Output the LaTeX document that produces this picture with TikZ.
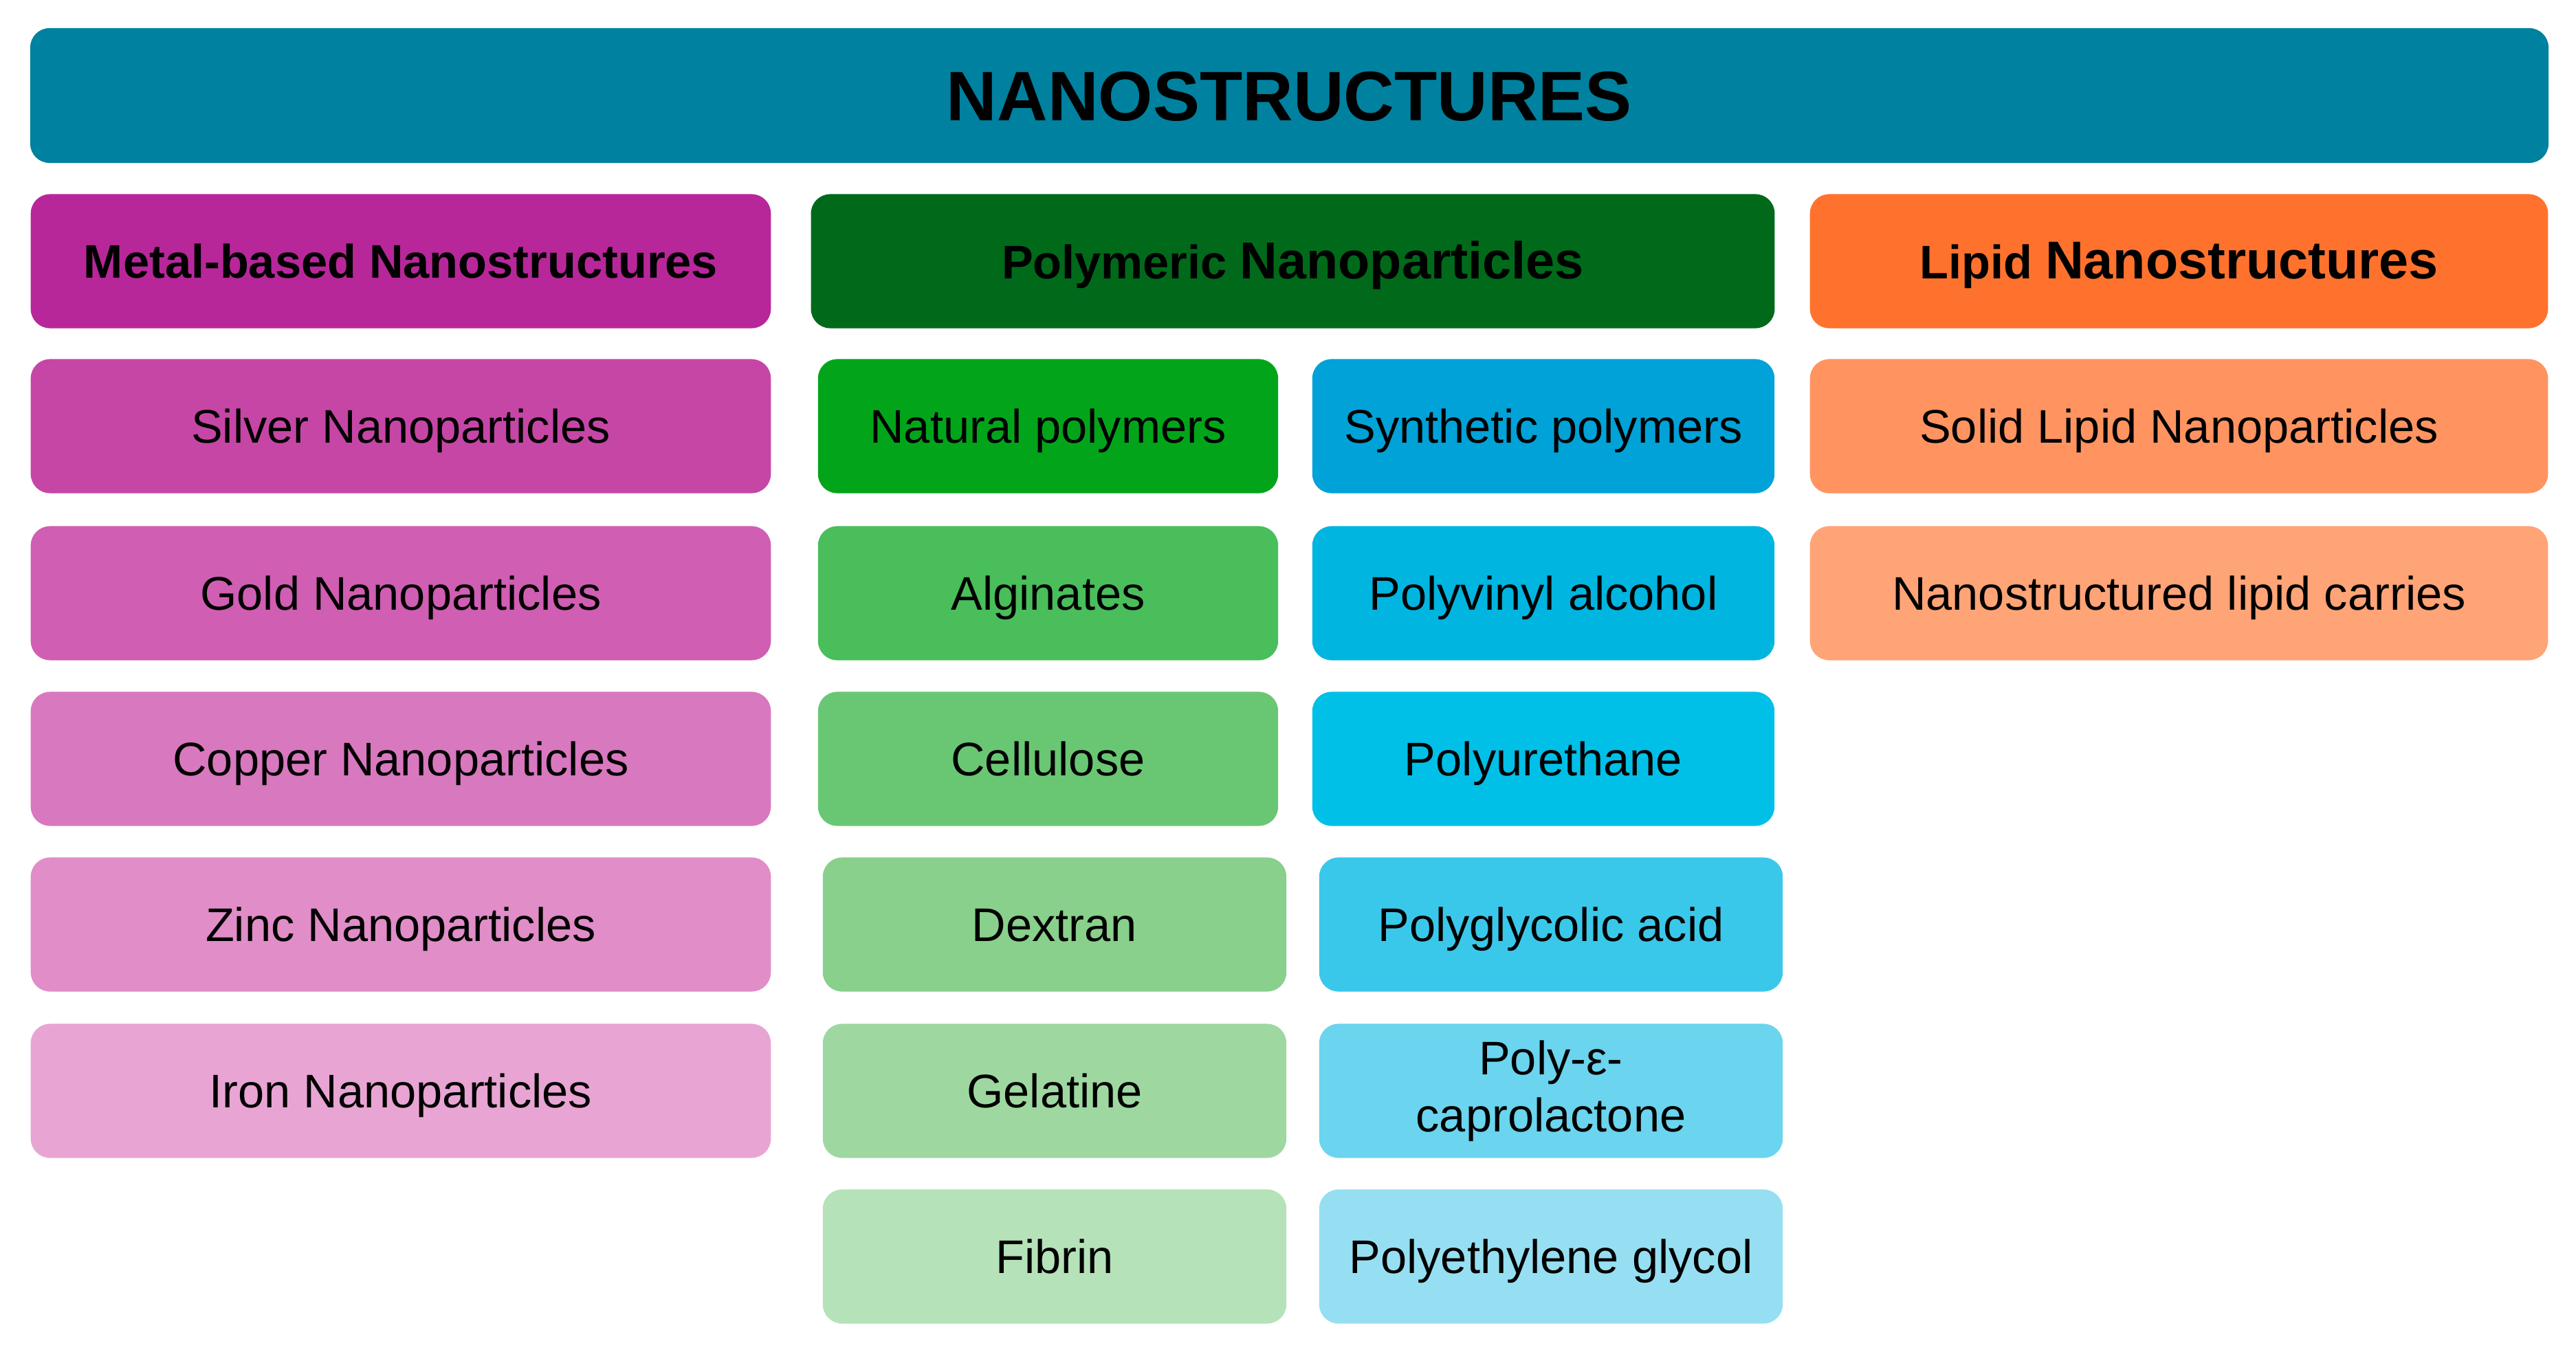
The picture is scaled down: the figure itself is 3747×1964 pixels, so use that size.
\documentclass[tikz,border=0pt]{standalone}
\usepackage{fontspec}
\setmainfont{Liberation Sans}
\definecolor{ctop}{HTML}{00819F}
\definecolor{cmetal}{HTML}{B8279A}
\definecolor{cpoly}{HTML}{006A1A}
\definecolor{clipid}{HTML}{FF722D}
\definecolor{cm1}{HTML}{C646A6}
\definecolor{cm2}{HTML}{D05EB3}
\definecolor{cm3}{HTML}{D878BF}
\definecolor{cm4}{HTML}{E08DC8}
\definecolor{cm5}{HTML}{E8A5D3}
\definecolor{cn1}{HTML}{02A51A}
\definecolor{cn2}{HTML}{49BE5A}
\definecolor{cn3}{HTML}{69C774}
\definecolor{cn4}{HTML}{88D08B}
\definecolor{cn5}{HTML}{9ED8A0}
\definecolor{cn6}{HTML}{B5E2B8}
\definecolor{cs1}{HTML}{00A2D8}
\definecolor{cs2}{HTML}{00B5E0}
\definecolor{cs3}{HTML}{00C0E8}
\definecolor{cs4}{HTML}{3AC8EA}
\definecolor{cs5}{HTML}{6BD4EE}
\definecolor{cs6}{HTML}{96DFF2}
\definecolor{cl1}{HTML}{FF9461}
\definecolor{cl2}{HTML}{FFA477}
\begin{document}
\begin{tikzpicture}[x=0.01cm,y=-0.01cm,
  box/.style={rectangle, rounded corners=0.28cm, inner sep=0pt, draw=none,
    minimum height=1.95cm, align=center, text=black,
    text height=14pt, text depth=0pt,
    font=\fontsize{19.5}{23.5}\selectfont},
  hdr/.style={box, text height=14.6pt, font=\fontsize{19.5}{23.5}\selectfont\bfseries},
  wA/.style={minimum width=10.76cm},
  wN/.style={minimum width=6.69cm},
  wN2/.style={minimum width=6.74cm},
  wS/.style={minimum width=6.72cm},
  wS2/.style={minimum width=6.74cm}]
\useasboundingbox (0,0) rectangle (3747,1964);
\node[box, fill=ctop, minimum width=36.61cm, minimum height=1.96cm, text height=20.8pt,
  font=\fontsize{29}{34}\selectfont\bfseries] (top) at (1875.5,139) {NANOSTRUCTURES};
% headers
\node[hdr, fill=cmetal, wA, text height=14pt] (metal) at (583,380) {Metal-based Nanostructures};
\node[hdr, fill=cpoly, minimum width=14.01cm] (poly) at (1880.5,380) {Polymeric {\fontsize{21.5}{24}\selectfont Nanoparticles}};
\node[hdr, fill=clipid, minimum width=10.73cm] (lipid) at (3169.5,380) {Lipid {\fontsize{22}{24}\selectfont Nanostructures}};
% metal column
\node[box, fill=cm1, wA] (m1) at (583,620) {Silver Nanoparticles};
\node[box, fill=cm2, wA] (m2) at (583,863) {Gold Nanoparticles};
\node[box, fill=cm3, wA] (m3) at (583,1104) {Copper Nanoparticles};
\node[box, fill=cm4, wA] (m4) at (583,1345) {Zinc Nanoparticles};
\node[box, fill=cm5, wA] (m5) at (583,1587) {Iron Nanoparticles};
% natural column
\node[box, fill=cn1, wN] (n1) at (1524.5,620) {Natural polymers};
\node[box, fill=cn2, wN] (n2) at (1524.5,863) {Alginates};
\node[box, fill=cn3, wN] (n3) at (1524.5,1104) {Cellulose};
\node[box, fill=cn4, wN2] (n4) at (1534,1345) {Dextran};
\node[box, fill=cn5, wN2] (n5) at (1534,1587) {Gelatine};
\node[box, fill=cn6, wN2] (n6) at (1534,1828) {Fibrin};
% synthetic column
\node[box, fill=cs1, wS] (s1) at (2245,620) {Synthetic polymers};
\node[box, fill=cs2, wS] (s2) at (2245,863) {Polyvinyl alcohol};
\node[box, fill=cs3, wS] (s3) at (2245,1104) {Polyurethane};
\node[box, fill=cs4, wS2] (s4) at (2256,1345) {Polyglycolic acid};
\node[box, fill=cs5, wS2, text height=, text depth=] (s5) at (2256,1587) {Poly-ε-\\caprolactone};
\node[box, fill=cs6, wS2] (s6) at (2256,1828) {Polyethylene glycol};
% lipid column
\node[box, fill=cl1, minimum width=10.73cm] (l1) at (3169.5,620) {Solid Lipid Nanoparticles};
\node[box, fill=cl2, minimum width=10.73cm] (l2) at (3169.5,863) {Nanostructured lipid carries};
\end{tikzpicture}
\end{document}
